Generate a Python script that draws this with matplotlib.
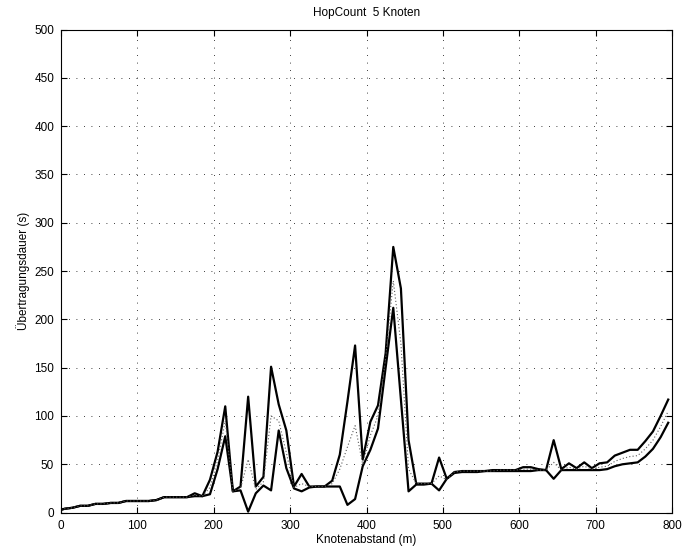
import numpy as np
import matplotlib
matplotlib.use('Agg')
import matplotlib.pyplot as plt

plt.rcParams['font.family'] = ['Liberation Sans', 'DejaVu Sans']

# Knotenabstand (m)
dist = np.r_[0, np.arange(5, 800, 10)]

# obere Kurve
upper = [3, 4, 5, 7, 7, 9, 9, 10, 10, 12,
         12, 12, 12, 13, 16, 16, 16, 16, 20, 17,
         34, 63, 110, 22, 27, 120, 27, 37, 151, 112,
         85, 27, 40, 27, 27, 27, 33, 60, 115, 173,
         55, 94, 111, 165, 275, 232, 75, 30, 30, 30,
         57, 35, 42, 43, 43, 43, 43, 44, 44, 44,
         44, 47, 47, 45, 44, 75, 45, 51, 46, 52,
         46, 51, 52, 59, 62, 65, 65, 74, 84, 100,
         117]

# untere Kurve
lower = [3, 4, 5, 7, 7, 9, 9, 10, 10, 12,
         12, 12, 12, 13, 16, 16, 16, 16, 17, 17,
         19, 45, 79, 22, 23, 1, 20, 28, 23, 85,
         46, 25, 22, 26, 27, 27, 27, 27, 8, 14,
         48, 65, 87, 150, 212, 117, 22, 29, 29, 30,
         23, 35, 41, 42, 42, 42, 43, 43, 43, 43,
         43, 43, 43, 44, 44, 35, 44, 44, 44, 44,
         44, 44, 45, 48, 50, 51, 52, 58, 66, 78,
         93]

# Mittelwert
mean = [3, 4, 5, 7, 7, 9, 9, 10, 10, 12,
        12, 12, 12, 13, 16, 16, 16, 16, 18, 17,
        26, 54, 95, 22, 25, 55, 24, 32, 100, 95,
        62, 26, 30, 27, 27, 27, 30, 45, 68, 90,
        50, 80, 100, 160, 240, 175, 45, 30, 30, 30,
        38, 34, 42, 43, 43, 43, 43, 43, 44, 44,
        44, 45, 45, 44, 44, 52, 44, 47, 45, 48,
        45, 47, 48, 53, 56, 58, 59, 66, 75, 89,
        105]

fig = plt.figure(figsize=(6.85, 5.55), dpi=100)
ax = fig.add_axes([0.0891, 0.0764, 0.892, 0.8703])

ax.plot(dist, upper, color='k', lw=1.6)
ax.plot(dist, lower, color='k', lw=1.6)
ax.plot(dist, mean, color='0.35', lw=0.8, linestyle=(0, (1, 2)))

ax.set_xlim(0, 800)
ax.set_ylim(0, 500)
ax.set_xticks(np.arange(0, 801, 100))
ax.set_yticks(np.arange(0, 501, 50))
ax.grid(True, color='k', lw=0.6, linestyle=(0, (1, 8)))
ax.tick_params(direction='in', top=True, right=True, length=4,
               labelsize=8.5, pad=5)
for s in ax.spines.values():
    s.set_linewidth(0.8)

ax.set_xlabel('Knotenabstand (m)', fontsize=8.5, labelpad=2)
ax.set_ylabel('Übertragungsdauer (s)', fontsize=8.5, labelpad=3)
ax.set_title('HopCount  5 Knoten', fontsize=8.5, pad=10)

fig.savefig('out.png', dpi=100)
